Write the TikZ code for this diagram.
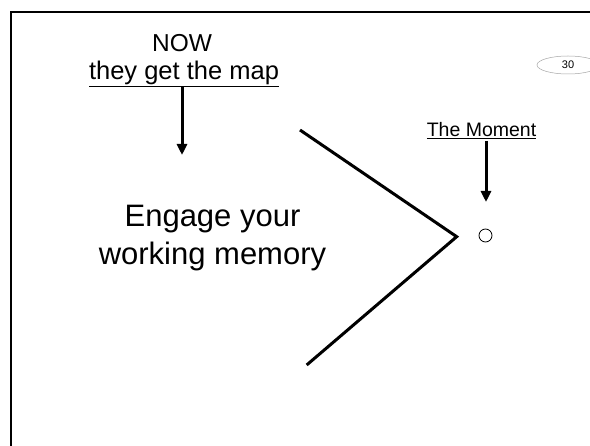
\documentclass[tikz,border=0pt]{standalone}
\usepackage{fontspec}
\setmainfont{Liberation Sans}
\usetikzlibrary{arrows.meta,shapes.geometric}
\begin{document}
\begin{tikzpicture}[x=1pt,y=-1pt,
  label text/.style={inner sep=0pt,anchor=base},
  pointer/.style={line width=3pt,-{Triangle[width=10pt,length=11pt]}},
  wedge line/.style={line width=3pt},
  frame line/.style={line width=2pt},
  page tag/.style={draw=gray!70,line width=0.5pt,ellipse,minimum width=62pt,minimum height=18pt,inner sep=0pt,font=\fontsize{11}{13}\selectfont}
]
\useasboundingbox (0,0) rectangle (590,446);
\fill[white] (0,0) rectangle (590,446);

% slide frame (runs off the right and bottom edges)
\draw[frame line] (11,447) -- (11,12) -- (591,12);

% page number tag
\node[page tag] (tag) at (568,65) {30};

% left heading and arrow
\node[label text,font=\fontsize{24.5}{28}\selectfont] (now) at (182,51.5) {NOW};
\node[label text,font=\fontsize{25.5}{30}\selectfont] (map) at (184,80) {\underline{they get the map}};
\coordinate (mapfoot) at (182,87);
\coordinate (maptip) at (182,155);
\draw[pointer] (mapfoot) -- (maptip);

% central message
\node[label text,font=\fontsize{31}{38}\selectfont] (eng1) at (212.5,226.7) {Engage your};
\node[label text,font=\fontsize{31}{38}\selectfont] (eng2) at (212.5,265) {working memory};

% converging lines
\coordinate (wtop) at (300,130);
\coordinate (wvertex) at (456.7,236.7);
\coordinate (wbottom) at (306.7,365);
\draw[wedge line,line join=miter] (wtop) -- (wvertex) -- (wbottom);

% the moment
\node[label text,font=\fontsize{19.5}{23}\selectfont] (moment) at (481.5,136.7) {\underline{The Moment}};
\coordinate (momfoot) at (486,141);
\coordinate (momtip) at (486,202);
\draw[pointer] (momfoot) -- (momtip);
\node[draw,circle,line width=0.8pt,minimum size=13pt,inner sep=0pt] (dot) at (485.5,235.5) {};
\end{tikzpicture}
\end{document}
